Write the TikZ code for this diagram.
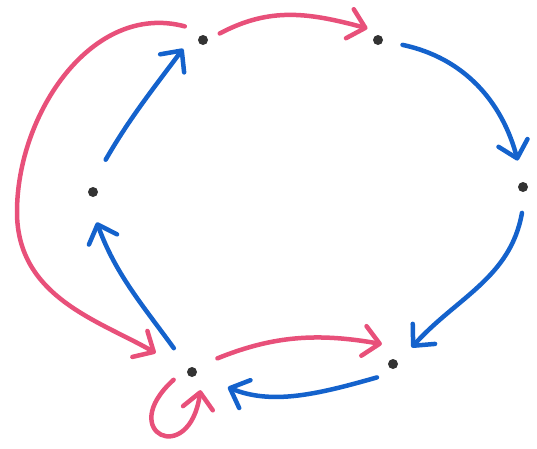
\documentclass[tikz,border=0pt]{standalone}
\usepackage{xcolor}
\usepackage{tikz}
\usetikzlibrary{arrows.meta}
\definecolor{rosepink}{HTML}{E8507A}
\definecolor{penblue}{HTML}{1462CC}
\definecolor{inkdot}{HTML}{333333}

\begin{document}
\begin{tikzpicture}[x=1pt,y=1pt,
  dot/.style={circle,fill=inkdot,inner sep=0pt,minimum size=10pt,outer sep=15pt},
  penline/.style={line width=4.5pt,line cap=round,-{Straight Barb[length=16pt,width=30pt,round]}},
  pinkline/.style={penline,rosepink},
  blueline/.style={penline,penblue}]
  \useasboundingbox (0,0) rectangle (537,-448);
  % the six points
  \node[dot] (a) at (203,-40) {};
  \node[dot] (b) at (378,-40) {};
  \node[dot] (c) at (523,-187) {};
  \node[dot] (d) at (393,-364) {};
  \node[dot] (e) at (192,-372) {};
  \node[dot] (f) at (93,-192) {};
  \coordinate (lft) at (17,-212);
  % blue cycle
  \draw[blueline,shorten <=5pt,shorten >=7pt] (b.-11) to[out=-12,in=105] (c.100);
  \draw[blueline,shorten <=6pt,shorten >=5pt] (c.-90) to[out=-100,in=48] (d.40);
  \draw[blueline,shorten <=1pt,shorten >=19pt] (d.221) to[out=196,in=-22] (e.-24);
  \draw[blueline,shorten <=10pt,shorten >=11pt] (e.128) to[out=126,in=-70] (f.-90);
  \draw[blueline,shorten <=15pt,shorten >=2pt] (f.75) to[out=60,in=-127] (a.201);
  % pink moves
  \draw[pinkline,shorten <=-2pt,shorten >=-5pt] (a.22) to[out=28,in=165] (b.140);
  \draw[pinkline,shorten <=3pt,shorten >=21pt] (a.140) to[out=165,in=90] (lft) to[out=-90,in=150] (e.155);
  \draw[pinkline,shorten <=9pt,shorten >=5pt] (e.31) to[out=22,in=170] (d.108);
  \draw[pinkline] (e.203) to[out=222,in=262,looseness=7] (e.295);
\end{tikzpicture}
\end{document}
